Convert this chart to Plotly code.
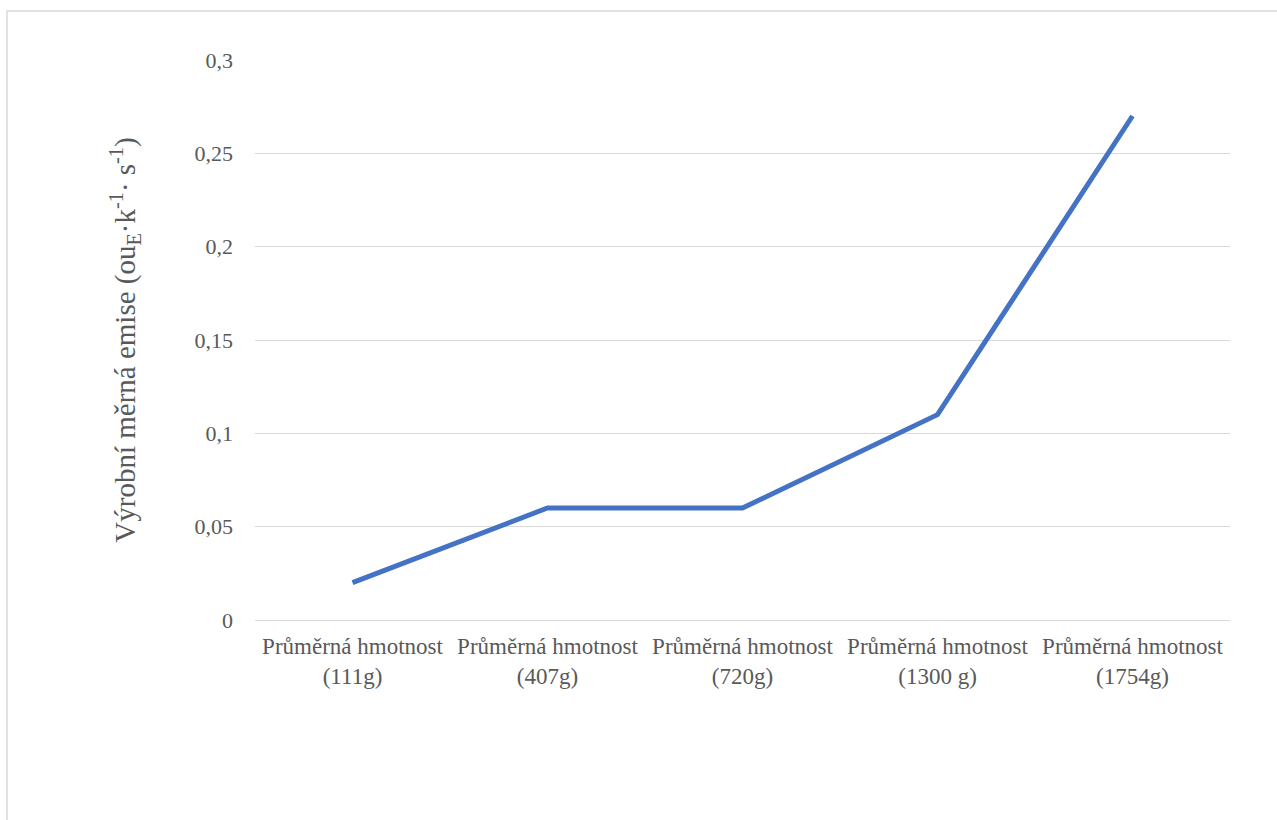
import plotly.graph_objects as go

categories = ["Průměrná hmotnost<br>(111g)", "Průměrná hmotnost<br>(407g)",
              "Průměrná hmotnost<br>(720g)", "Průměrná hmotnost<br>(1300 g)",
              "Průměrná hmotnost<br>(1754g)"]
values = [0.02, 0.06, 0.06, 0.11, 0.27]
y_title = "Výrobní měrná emise (ou<sub>E</sub>·k<sup>-1</sup>· s<sup>-1</sup>)"

W, H = 1277, 820
L, R, T, B = 255, 47, 60, 200
pw, ph = W - L - R, H - T - B

fig = go.Figure(go.Scatter(
    x=categories, y=values, mode="lines",
    line=dict(color="#4472C4", width=5), showlegend=False))

font = dict(family="'Liberation Serif', 'Times New Roman', serif", color="#595959")

fig.update_layout(
    width=W, height=H,
    margin=dict(l=L, r=R, t=T, b=B),
    paper_bgcolor="white", plot_bgcolor="white",
    separators=", ",
    font=dict(size=23, **font),
    xaxis=dict(showgrid=False, showline=False, ticks="", zeroline=False,
               tickfont=dict(size=23, **font), range=[-0.5, 4.5],
               ticklabelstandoff=10),
    yaxis=dict(range=[0, 0.3], dtick=0.05, showgrid=True, gridcolor="#d9d9d9",
               gridwidth=1.3, zeroline=True, zerolinecolor="#d9d9d9", zerolinewidth=1.3,
               showline=False, ticks="", ticklabelstandoff=21,
               tickfont=dict(size=22, **font),
               title=dict(text=y_title, font=dict(size=29, **font), standoff=50)),
    shapes=[dict(type="rect", xref="paper", yref="paper",
                 x0=(7 - L) / pw, x1=(W + 20 - L) / pw,
                 y0=-(H + 20 - T - ph) / ph, y1=(T + ph - 11) / ph,
                 line=dict(color="#d9d9d9", width=1.5), layer="below")],
)

fig.write_html("out.html")
